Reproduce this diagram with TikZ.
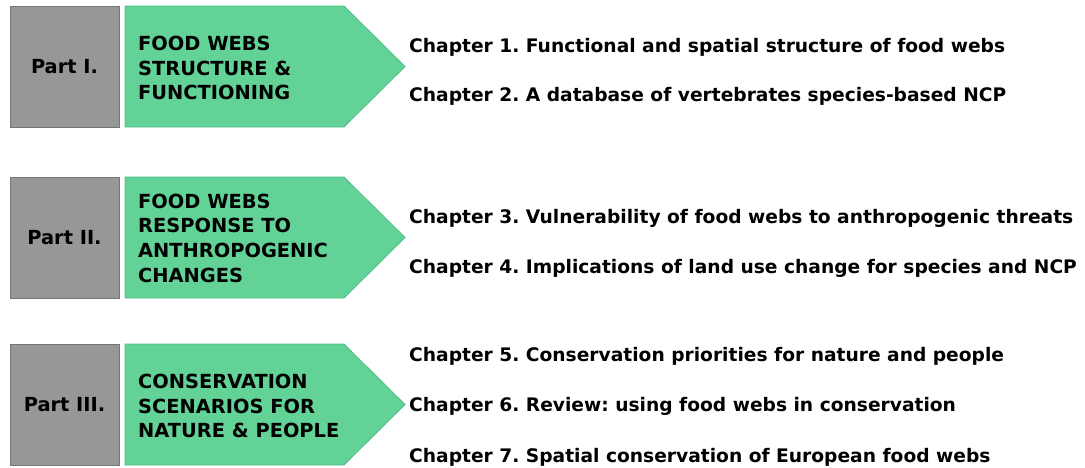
\documentclass[tikz,border=0pt]{standalone}
\usepackage{fontspec}
\setmainfont{DejaVu Sans}
\definecolor{partgrey}{HTML}{979797}
\definecolor{partgreyline}{HTML}{767676}
\definecolor{webgreen}{HTML}{62D297}
\definecolor{webgreenline}{HTML}{50BC84}
\begin{document}
\frenchspacing
\begin{tikzpicture}[x=1pt,y=-1pt,
  partbox/.style={fill=partgrey,draw=partgreyline,line width=1pt},
  arrowbox/.style={fill=webgreen,draw=webgreenline,line width=0.8pt},
  parttext/.style={font=\bfseries\fontsize{19.4}{23}\selectfont,inner sep=0pt},
  themetext/.style={font=\bfseries\fontsize{19.4}{24.7}\selectfont,align=left,anchor=west,inner sep=0pt},
  chaptext/.style={font=\bfseries\fontsize{18.65}{23}\selectfont,anchor=base west,inner sep=0pt}]
\useasboundingbox (0,0) rectangle (1085,467);
% Part I
\draw[partbox] (10,6) rectangle (119,127);
\draw[arrowbox] (125,6) -- (344,6) -- (405,66.5) -- (344,127) -- (125,127) -- cycle;
\node[parttext] (p1) at (64.5,66.5) {Part I.};
\node[themetext] (t1) at (138,68) {FOOD WEBS\\STRUCTURE \&\\FUNCTIONING};
\node[chaptext] (c1) at (409,52) {Chapter 1. Functional and spatial structure of food webs};
\node[chaptext] (c2) at (409,101) {Chapter 2. A database of vertebrates species-based NCP};
% Part II
\draw[partbox] (10,177) rectangle (119,298);
\draw[arrowbox] (125,177) -- (344,177) -- (405,237.5) -- (344,298) -- (125,298) -- cycle;
\node[parttext] (p2) at (64.5,237.5) {Part II.};
\node[themetext] (t2) at (138,238) {FOOD WEBS\\RESPONSE TO\\ANTHROPOGENIC\\CHANGES};
\node[chaptext] (c3) at (409,223) {Chapter 3. Vulnerability of food webs to anthropogenic threats};
\node[chaptext] (c4) at (409,273) {Chapter 4. Implications of land use change for species and NCP};
% Part III
\draw[partbox] (10,344) rectangle (119,465);
\draw[arrowbox] (125,344) -- (344,344) -- (405,404.5) -- (344,465) -- (125,465) -- cycle;
\node[parttext] (p3) at (64.5,404.5) {Part III.};
\node[themetext] (t3) at (138,406) {CONSERVATION\\SCENARIOS FOR\\NATURE \& PEOPLE};
\node[chaptext] (c5) at (409,361) {Chapter 5. Conservation priorities for nature and people};
\node[chaptext] (c6) at (409,411.5) {Chapter 6. Review: using food webs in conservation};
\node[chaptext] (c7) at (409,462) {Chapter 7. Spatial conservation of European food webs};
\end{tikzpicture}
\end{document}
